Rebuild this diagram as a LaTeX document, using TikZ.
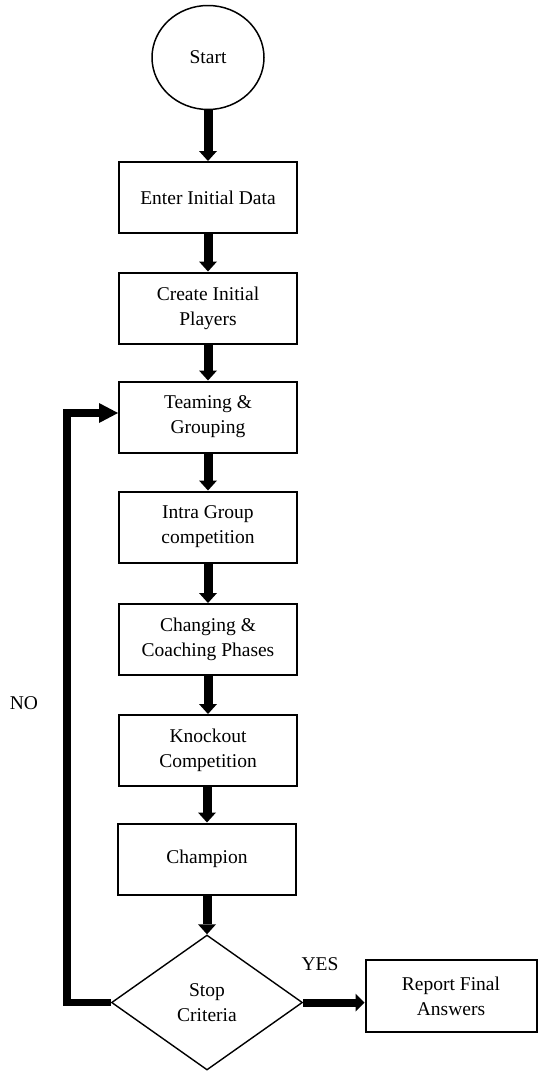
\documentclass[tikz,border=0pt]{standalone}
\usepackage{fontspec}
\setmainfont{Liberation Serif}
\usetikzlibrary{arrows.meta,shapes.geometric}
\tikzset{
  txt/.style={font=\fontsize{19.5}{25}\selectfont, align=center},
  procbox/.style={txt, draw, line width=2pt, rectangle, minimum width=178pt, minimum height=71pt, inner sep=0pt},
  flowarrow/.style={line width=9pt, -{Triangle[length=10pt,width=18pt,line width=0pt]}},
  looparrow/.style={line width=7.5pt, line join=miter, -{Triangle[length=19pt,width=20pt,line width=0pt]}},
}
\begin{document}
\begin{tikzpicture}[x=1pt,y=-1pt]
\useasboundingbox (0,0) rectangle (538,1071);
\node[txt, draw, line width=1.5pt, ellipse, minimum width=112pt, minimum height=104pt, inner sep=0pt] (start) at (208,57.5) {Start};
\node[procbox] (b1) at (208,197.5) {Enter Initial Data};
\node[procbox] (b2) at (208,308) {Create Initial\\Players};
\node[procbox] (b3) at (208,417) {Teaming \&\\Grouping};
\node[procbox] (b4) at (208,527) {Intra Group\\competition};
\node[procbox] (b5) at (208,639.5) {Changing \&\\Coaching Phases};
\node[procbox] (b6) at (208,750.5) {Knockout\\Competition};
\node[procbox] (b7) at (207,859) {Champion};
\node[txt, draw, line width=1.4pt, diamond, minimum width=191pt, minimum height=135pt, inner sep=0pt] (dia) at (207,1002.5) {Stop\\Criteria};
\node[txt, draw, line width=2pt, rectangle, minimum width=171pt, minimum height=72pt, inner sep=0pt] (rep) at (451,996) {Report Final\\Answers};
\node[txt] (yes) at (320,964) {YES};
\node[txt] (no) at (24,703) {NO};
\coordinate (corner) at (67,1002.5);
\draw[flowarrow] (start) -- (b1);
\draw[flowarrow] (b1) -- (b2);
\draw[flowarrow] (b2) -- (b3);
\draw[flowarrow] (b3) -- (b4);
\draw[flowarrow] (b4) -- (b5);
\draw[flowarrow] (b5) -- (b6);
\draw[flowarrow] (b6.south -| b7.north) -- (b7.north);
\draw[flowarrow] (b7) -- (dia);
\draw[line width=8pt, -{Triangle[length=9pt,width=18pt,line width=0pt]}] (dia.east) -- (dia.east -| rep.west);
\draw[looparrow] (dia.west) -- (corner) |- ([yshift=4pt]b3.west);
\end{tikzpicture}
\end{document}
